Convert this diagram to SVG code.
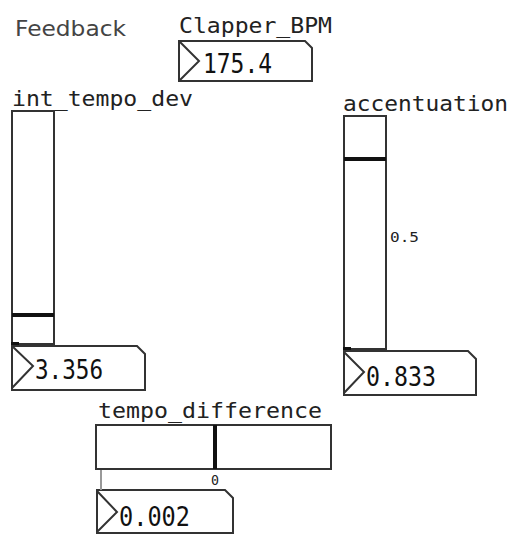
<svg xmlns="http://www.w3.org/2000/svg" width="512" height="536" viewBox="0 0 512 536">
<style>
.lbl{font-family:"DejaVu Sans Mono",monospace;font-size:21px;fill:#222}
.num{font-family:"DejaVu Sans Mono",monospace;font-size:26px;fill:#111}
.small{font-family:"DejaVu Sans Mono",monospace;font-size:14px;fill:#222}
.box{fill:#fff;stroke:#333;stroke-width:2}
.bar{stroke:#111;stroke-width:4}
</style>
<rect width="512" height="536" fill="#fff"/>
<text x="15" y="36" font-family="DejaVu Sans, sans-serif" font-size="21" fill="#444" textLength="111" lengthAdjust="spacingAndGlyphs">Feedback</text>

<g id="clapper_bpm">
<text class="lbl" x="179" y="33" textLength="153" lengthAdjust="spacingAndGlyphs">Clapper_BPM</text>
<path class="box" d="M179,41 H305 L312,48 V81 H179 Z"/>
<path d="M179,41 L199,61 L179,81" fill="none" stroke="#333" stroke-width="2"/>
<text class="num" x="203" y="73" textLength="69" lengthAdjust="spacingAndGlyphs">175.4</text>
</g>

<g id="int_tempo_dev">
<text class="lbl" x="12" y="106" textLength="181" lengthAdjust="spacingAndGlyphs">int_tempo_dev</text>
<rect class="box" x="12" y="111" width="42" height="233"/>
<line class="bar" x1="12" y1="315" x2="54" y2="315"/>
<rect x="11" y="342" width="8" height="4" fill="#111"/>
</g>
<g id="int_tempo_dev_num">
<path class="box" d="M12,346 H137 L145,354 V390 H12 Z"/>
<path d="M12,346 L33,366 L12,388" fill="none" stroke="#333" stroke-width="2"/>
<text class="num" x="35" y="379" textLength="68" lengthAdjust="spacingAndGlyphs">3.356</text>
</g>

<g id="accentuation">
<text class="lbl" x="343" y="111" textLength="165" lengthAdjust="spacingAndGlyphs">accentuation</text>
<rect class="box" x="344" y="116" width="42" height="233"/>
<line class="bar" x1="344" y1="159" x2="386" y2="159"/>
<text class="small" x="390" y="242" textLength="29" lengthAdjust="spacingAndGlyphs">0.5</text>
<rect x="343" y="347" width="8" height="4" fill="#111"/>
</g>
<g id="accentuation_num">
<path class="box" d="M344,351 H468 L476,359 V395 H344 Z"/>
<path d="M344,352 L364,372 L344,393" fill="none" stroke="#333" stroke-width="2"/>
<text class="num" x="366" y="386" textLength="70" lengthAdjust="spacingAndGlyphs">0.833</text>
</g>

<g id="tempo_difference">
<text class="lbl" x="98" y="418" textLength="224" lengthAdjust="spacingAndGlyphs">tempo_difference</text>
<rect class="box" x="96" y="425" width="235" height="44"/>
<line class="bar" x1="215" y1="425" x2="215" y2="469"/>
<text class="small" x="211" y="485" textLength="8" lengthAdjust="spacingAndGlyphs">0</text>
</g>
<g id="tempo_difference_num">
<path class="box" d="M97,490 H225 L233,498 V533 H97 Z"/>
<path d="M97,491 L117,512 L97,532" fill="none" stroke="#333" stroke-width="2"/>
<text class="num" x="119" y="526" textLength="71" lengthAdjust="spacingAndGlyphs">0.002</text>
</g>

<g id="connectors">
<line x1="101" y1="470" x2="101" y2="490" stroke="#999" stroke-width="2"/>
</g>
</svg>
